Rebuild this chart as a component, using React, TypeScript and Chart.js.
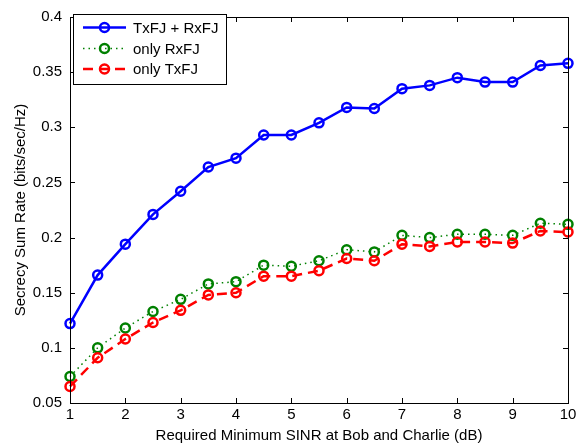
import React, { useEffect, useRef } from "react";
import { Chart, registerables } from "chart.js";

Chart.register(...registerables);

const sinrDb = [1, 1.5, 2, 2.5, 3, 3.5, 4, 4.5, 5, 5.5, 6, 6.5, 7, 7.5, 8, 8.5, 9, 9.5, 10];
const txRxFJ = [0.122, 0.166, 0.194, 0.221, 0.242, 0.264, 0.272, 0.293, 0.293, 0.304, 0.318, 0.317, 0.335, 0.338, 0.345, 0.341, 0.341, 0.356, 0.358];
const onlyRxFJ = [0.074, 0.100, 0.118, 0.133, 0.144, 0.158, 0.160, 0.175, 0.174, 0.179, 0.189, 0.187, 0.202, 0.200, 0.203, 0.203, 0.202, 0.213, 0.212];
const onlyTxFJ = [0.065, 0.091, 0.108, 0.123, 0.134, 0.148, 0.150, 0.165, 0.165, 0.170, 0.181, 0.179, 0.194, 0.192, 0.196, 0.196, 0.195, 0.206, 0.205];
const seriesLabels = ["TxFJ + RxFJ", "only RxFJ", "only TxFJ"];
const xTicks = [1, 2, 3, 4, 5, 6, 7, 8, 9, 10];
const yTicks = [0.05, 0.1, 0.15, 0.2, 0.25, 0.3, 0.35, 0.4];

const FONT = "'Liberation Sans', Arial, Helvetica, sans-serif";
const FS = 15;

const framePlugin = {
  id: "frame",
  afterDraw(chart: any) {
    const { ctx, chartArea: a, scales } = chart;
    ctx.save();
    ctx.strokeStyle = "#000";
    ctx.lineWidth = 1;
    ctx.strokeRect(Math.round(a.left) + 0.5, Math.round(a.top) + 0.5, Math.round(a.right - a.left), Math.round(a.bottom - a.top));
    const tl = 5;
    ctx.beginPath();
    xTicks.forEach((v) => {
      const x = Math.round(scales.x.getPixelForValue(v)) + 0.5;
      ctx.moveTo(x, a.bottom);
      ctx.lineTo(x, a.bottom - tl);
      ctx.moveTo(x, a.top);
      ctx.lineTo(x, a.top + tl);
    });
    yTicks.forEach((v) => {
      const y = Math.round(scales.y.getPixelForValue(v)) + 0.5;
      ctx.moveTo(a.left, y);
      ctx.lineTo(a.left + tl, y);
      ctx.moveTo(a.right, y);
      ctx.lineTo(a.right - tl, y);
    });
    ctx.stroke();

    // legend
    const lx = 73, ly = 14, lw = 153, lh = 70;
    ctx.fillStyle = "#fff";
    ctx.fillRect(lx, ly, lw, lh);
    ctx.strokeStyle = "#000";
    ctx.lineWidth = 1;
    ctx.strokeRect(lx + 0.5, ly + 0.5, lw, lh);
    const rows = [27.5, 48.5, 69];
    chart.data.datasets.forEach((ds: any, i: number) => {
      const y = rows[i];
      ctx.save();
      ctx.strokeStyle = ds.borderColor;
      ctx.lineWidth = ds.borderWidth;
      ctx.setLineDash(ds.borderDash || []);
      ctx.beginPath();
      ctx.moveTo(83, y);
      ctx.lineTo(126, y);
      ctx.stroke();
      ctx.setLineDash([]);
      ctx.lineWidth = ds.pointBorderWidth;
      ctx.strokeStyle = ds.pointBorderColor;
      ctx.beginPath();
      ctx.arc(104.5, y, ds.pointRadius, 0, Math.PI * 2);
      ctx.stroke();
      ctx.restore();
      ctx.fillStyle = "#000";
      ctx.font = `${FS}px ${FONT}`;
      ctx.textBaseline = "middle";
      ctx.textAlign = "left";
      ctx.fillText(ds.label, 133, y + 1);
    });
    ctx.restore();
  },
};

export default function App() {
  const ref = useRef<HTMLCanvasElement | null>(null);
  useEffect(() => {
    if (!ref.current) return;
    const chart = new Chart(ref.current, {
      type: "line",
      data: {
        datasets: [
          {
            label: seriesLabels[0],
            data: sinrDb.map((x, i) => ({ x, y: txRxFJ[i] })),
            borderColor: "#0000ff",
            borderWidth: 2.5,
            pointRadius: 4.5,
            pointBorderWidth: 2.5,
            pointBorderColor: "#0000ff",
            pointBackgroundColor: "rgba(0,0,0,0)",
            order: 2,
            clip: false as any,
          },
          {
            label: seriesLabels[1],
            data: sinrDb.map((x, i) => ({ x, y: onlyRxFJ[i] })),
            borderColor: "#008000",
            borderWidth: 1.5,
            borderDash: [1.5, 4],
            pointRadius: 4.5,
            pointBorderWidth: 2.5,
            pointBorderColor: "#008000",
            pointBackgroundColor: "rgba(0,0,0,0)",
            order: 1,
            clip: false as any,
          },
          {
            label: seriesLabels[2],
            data: sinrDb.map((x, i) => ({ x, y: onlyTxFJ[i] })),
            borderColor: "#ff0000",
            borderWidth: 2.5,
            borderDash: [10, 6],
            pointRadius: 4.5,
            pointBorderWidth: 2.5,
            pointBorderColor: "#ff0000",
            pointBackgroundColor: "rgba(0,0,0,0)",
            order: 0,
            clip: false as any,
          },
        ],
      },
      options: {
        animation: false,
        responsive: false,
        layout: { padding: { top: 10, right: 19, left: 0, bottom: 0 } },
        plugins: { legend: { display: false }, tooltip: { enabled: false } },
        elements: { line: { tension: 0 } },
        scales: {
          x: {
            type: "linear",
            min: 1,
            max: 10,
            afterBuildTicks: (s: any) => { s.ticks = xTicks.map((v) => ({ value: v })); },
            afterFit: (s: any) => { s.height = 42; },
            grid: { display: false, drawTicks: false },
            border: { display: false },
            ticks: { color: "#000", font: { size: FS, family: FONT }, padding: 3, maxRotation: 0, autoSkip: false },
            title: { display: true, text: "Required Minimum SINR at Bob and Charlie (dB)", color: "#000", font: { size: FS, family: FONT }, padding: { top: 0, bottom: 0 } },
          },
          y: {
            type: "linear",
            min: 0.05,
            max: 0.4,
            afterBuildTicks: (s: any) => { s.ticks = yTicks.map((v) => ({ value: v })); },
            afterFit: (s: any) => { s.width = 70; },
            grid: { display: false, drawTicks: false },
            border: { display: false },
            ticks: {
              color: "#000",
              font: { size: FS, family: FONT },
              padding: 8,
              autoSkip: false,
              callback: (v: any) => String(Number(Number(v).toFixed(2))),
            },
            title: { display: true, text: "Secrecy Sum Rate (bits/sec/Hz)", color: "#000", font: { size: FS, family: FONT }, padding: { top: 12, bottom: 0 } },
          },
        },
      },
      plugins: [framePlugin],
    });
    return () => chart.destroy();
  }, []);
  return (
    <div style={{ position: "fixed", left: 0, top: 0, width: 587, height: 445, background: "#fff" }}>
      <canvas ref={ref} width={587} height={445} style={{ width: 587, height: 445 }} />
    </div>
  );
}
